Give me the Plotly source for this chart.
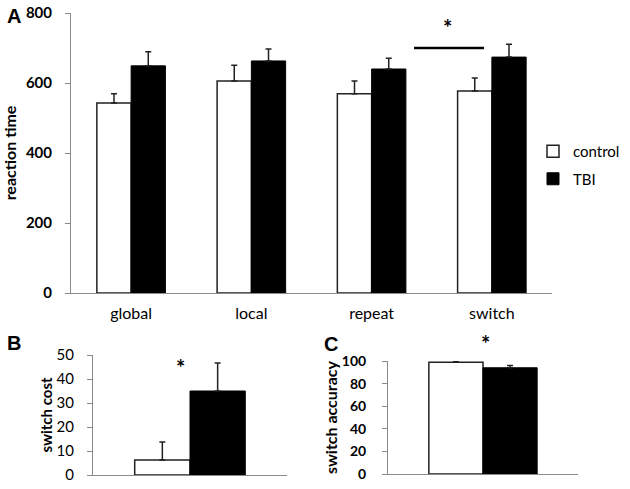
import plotly.graph_objects as go

categories = ["global", "local", "repeat", "switch"]
control_rt = [543, 606, 569, 577]
control_rt_err = [26, 45, 37, 37]
tbi_rt = [649, 663, 640, 674]
tbi_rt_err = [40, 34, 31, 37]

b_cat = ["switch cost"]
control_cost = [6.3]
control_cost_err = [7.5]
tbi_cost = [35]
tbi_cost_err = [11.7]

c_cat = ["switch accuracy"]
control_acc = [99]
control_acc_err = [0.5]
tbi_acc = [94]
tbi_acc_err = [2]

W, H = 630, 489
FONT = "Lato"
AX = "#8a8a8a"

def px(x):
    return x / W

def py(y):
    return 1 - y / H

fig = go.Figure()

def add_pair(x, c, ce, t, te, xa, ya, show):
    fig.add_trace(go.Bar(x=x, y=c, name="control", marker=dict(color="white", line=dict(color="#222", width=1.5)),
                         error_y=dict(type="data", symmetric=False, array=ce, arrayminus=[0]*len(ce),
                                      color="#222", thickness=1.5, width=3),
                         xaxis=xa, yaxis=ya, showlegend=show, legendgroup="c"))
    fig.add_trace(go.Bar(x=x, y=t, name="TBI", marker=dict(color="black", line=dict(color="black", width=1)),
                         error_y=dict(type="data", symmetric=False, array=te, arrayminus=[0]*len(te),
                                      color="#222", thickness=1.5, width=3),
                         xaxis=xa, yaxis=ya, showlegend=show, legendgroup="t"))

add_pair(categories, control_rt, control_rt_err, tbi_rt, tbi_rt_err, "x", "y", True)
add_pair(b_cat, control_cost, control_cost_err, tbi_cost, tbi_cost_err, "x2", "y2", False)
add_pair(c_cat, control_acc, control_acc_err, tbi_acc, tbi_acc_err, "x3", "y3", False)

def yax(anchor, domain, rng, dtick, title, size, bold, tsize, standoff, lstand):
    return dict(anchor=anchor, domain=domain, range=rng, dtick=dtick, showline=True, linecolor=AX, linewidth=1,
                ticks="outside", ticklen=5, tickcolor=AX, showgrid=False, zeroline=False,
                ticklabelstandoff=lstand, automargin=False,
                tickfont=dict(family=FONT, size=size, color="black", weight="bold" if bold else "normal"),
                title=dict(text=title, font=dict(family=FONT, size=tsize, color="black", weight="bold"), standoff=standoff),
                fixedrange=True)

def xax(domain, anchor, show_labels):
    return dict(domain=domain, anchor=anchor, showline=True, linecolor=AX, linewidth=1, ticks="",
                showticklabels=show_labels, showgrid=False, zeroline=False, automargin=False,
                ticklabelstandoff=6,
                tickfont=dict(family=FONT, size=16, color="black"), fixedrange=True)

fig.update_layout(
    width=W, height=H, margin=dict(l=0, r=0, t=0, b=0, autoexpand=False),
    paper_bgcolor="white", plot_bgcolor="white",
    barmode="group", bargap=0.43, bargroupgap=0,
    xaxis=xax([px(71), px(552)], "y", True),
    yaxis=yax("x", [py(293), py(13)], [0, 800], 200, "reaction time", 15, True, 16, 5, 10),
    xaxis2=xax([px(93), px(287)], "y2", False),
    yaxis2=yax("x2", [py(475), py(355)], [0, 50], 10, "switch cost", 15, False, 15, 0, 10),
    xaxis3=xax([px(388), px(578)], "y3", False),
    yaxis3=yax("x3", [py(474), py(361)], [0, 100], 20, "switch accuracy", 14, True, 16, 0, 13),
    legend=dict(x=px(533), y=py(135), xanchor="left", yanchor="top", font=dict(family=FONT, size=15, color="black"),
                tracegroupgap=5, bgcolor="rgba(0,0,0,0)", itemwidth=30),
    showlegend=True,
)

# significance line and stars
fig.add_shape(type="line", xref="x", yref="y", x0=2.353, x1=2.935, y0=700, y1=700,
              line=dict(color="black", width=2.5))
star_font = dict(family=FONT, size=22, color="black", weight="bold")
fig.add_annotation(text="*", x=2.63, y=760, xref="x", yref="y", showarrow=False, font=star_font)
fig.add_annotation(text="*", x=-0.05, y=45, xref="x2", yref="y2", showarrow=False, font=star_font)
fig.add_annotation(text="*", x=px(485), y=py(343), xref="paper", yref="paper", showarrow=False,
                   xanchor="center", yanchor="middle", font=star_font)
for letter, x, y in [("A", 14, 16), ("B", 14, 343), ("C", 331, 344)]:
    fig.add_annotation(text=letter, x=px(x), y=py(y), xref="paper", yref="paper", showarrow=False,
                       xanchor="center", yanchor="middle",
                       font=dict(family="Liberation Sans", size=20, color="black", weight="bold"))

# remove the browser's default 8px body margin so the figure sits at the page origin
fig.write_html("out.html", config={"displayModeBar": False},
               post_script="document.body.style.margin='0';")
